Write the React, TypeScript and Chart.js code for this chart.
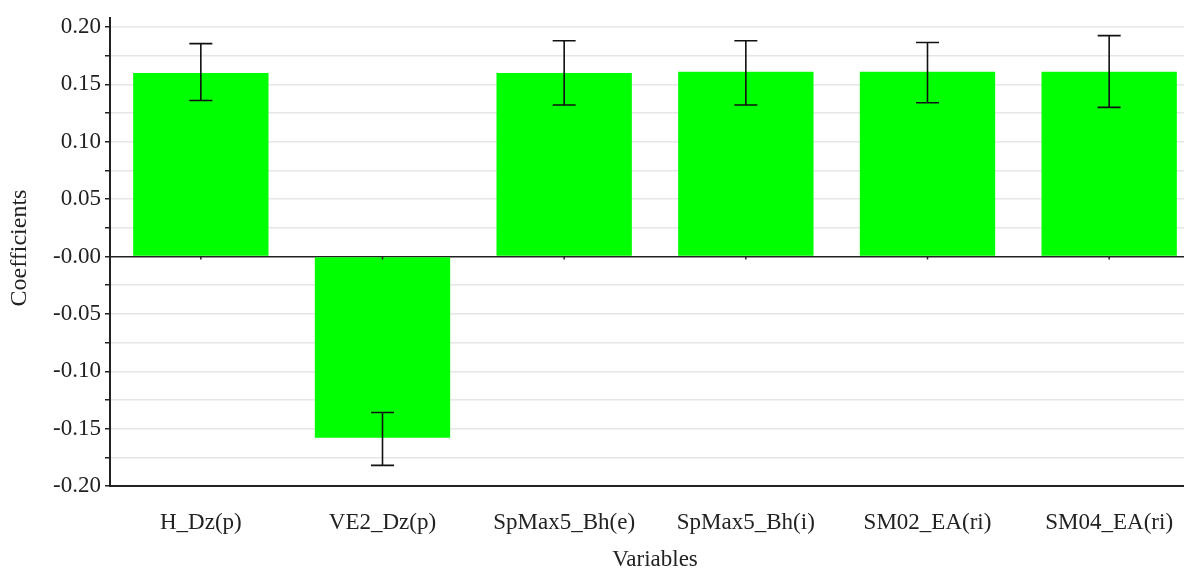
import React, { useEffect, useRef } from "react";
import { Chart, registerables } from "chart.js";

Chart.register(...registerables);

const categories = ["H_Dz(p)", "VE2_Dz(p)", "SpMax5_Bh(e)", "SpMax5_Bh(i)", "SM02_EA(ri)", "SM04_EA(ri)"];
const coefficients = [0.160, -0.158, 0.160, 0.161, 0.161, 0.161];
const errLow = [0.136, -0.182, 0.132, 0.132, 0.134, 0.130];
const errHigh = [0.1855, -0.136, 0.188, 0.188, 0.1865, 0.1925];
const yTitle = "Coefficients";
const xTitle = "Variables";

const FONT = "'Liberation Serif', 'Times New Roman', serif";
const FS = 23;

const errorBarPlugin = {
  id: "errorBars",
  afterDatasetsDraw(chart: any) {
    const ctx = chart.ctx;
    const x = chart.scales.x;
    const y = chart.scales.y;
    const area = chart.chartArea;
    ctx.save();
    // zero-line ticks on the category axis
    ctx.strokeStyle = "#222";
    ctx.lineWidth = 1.5;
    const y0 = y.getPixelForValue(0);
    categories.forEach((_, i) => {
      const cx = x.getPixelForValue(i);
      ctx.beginPath();
      ctx.moveTo(cx, y0);
      ctx.lineTo(cx, y0 + 3);
      ctx.stroke();
    });
    // error bars
    ctx.strokeStyle = "#111";
    ctx.lineWidth = 1.6;
    const cap = 11.5;
    categories.forEach((_, i) => {
      const cx = x.getPixelForValue(i);
      const yl = y.getPixelForValue(errLow[i]);
      const yh = y.getPixelForValue(errHigh[i]);
      ctx.beginPath();
      ctx.moveTo(cx, yl);
      ctx.lineTo(cx, yh);
      ctx.moveTo(cx - cap, yl);
      ctx.lineTo(cx + cap, yl);
      ctx.moveTo(cx - cap, yh);
      ctx.lineTo(cx + cap, yh);
      ctx.stroke();
    });
    // left axis line, extended above the top
    ctx.strokeStyle = "#222";
    ctx.lineWidth = 2;
    ctx.beginPath();
    ctx.moveTo(area.left, area.top - 10);
    ctx.lineTo(area.left, area.bottom);
    ctx.stroke();
    // y axis title
    ctx.translate(20, 248);
    ctx.rotate(-Math.PI / 2);
    ctx.fillStyle = "#222";
    ctx.font = `24px ${FONT}`;
    ctx.textAlign = "center";
    ctx.textBaseline = "middle";
    ctx.fillText(yTitle, 0, 0);
    ctx.restore();
  },
};

export default function App() {
  const ref = useRef<HTMLCanvasElement>(null);
  useEffect(() => {
    document.body.style.margin = "0";
    const chart = new Chart(ref.current!, {
      type: "bar",
      data: {
        labels: categories,
        datasets: [
          {
            label: yTitle,
            data: coefficients,
            backgroundColor: "#00ff00",
            borderWidth: 0,
            categoryPercentage: 1,
            barPercentage: 0.745,
          },
        ],
      },
      options: {
        animation: false,
        responsive: false,
        maintainAspectRatio: false,
        layout: { padding: { top: 27, right: 0, left: 0, bottom: 0 } },
        plugins: {
          legend: { display: false },
          tooltip: { enabled: false },
        },
        scales: {
          x: {
            grid: { display: false },
            border: { display: true, color: "#222", width: 2 },
            ticks: {
              color: "#222",
              font: { family: FONT, size: FS },
              padding: 15,
              maxRotation: 0,
            },
            title: {
              display: true,
              text: xTitle,
              color: "#222",
              font: { family: FONT, size: FS },
              padding: { top: 0, bottom: -5 },
            },
            afterFit: (s: any) => {
              s.height = 83;
            },
          },
          y: {
            min: -0.2,
            max: 0.2,
            border: { display: false },
            grid: {
              color: (c: any) => (c.tick && Math.abs(c.tick.value) < 1e-9 ? "#222" : "#e6e6e6"),
              lineWidth: 1.5,
              tickColor: "#222",
              tickLength: 5,
            },
            ticks: {
              stepSize: 0.025,
              autoSkip: false,
              color: "#222",
              font: { family: FONT, size: FS },
              padding: 4,
              callback: (v: any) => {
                const n = Math.round(Number(v) * 1000);
                if (n % 50 !== 0) return "";
                if (n === 0) return "-0.00";
                return (n / 1000).toFixed(2);
              },
            },
            title: { display: false },
            afterFit: (s: any) => {
              s.width = 110;
            },
          },
        },
      },
      plugins: [errorBarPlugin],
    });
    return () => chart.destroy();
  }, []);
  return (
    <div style={{ width: 1184, height: 569, overflow: "hidden", background: "#fff" }}>
      <canvas ref={ref} width={1200} height={569} style={{ display: "block" }} />
    </div>
  );
}
